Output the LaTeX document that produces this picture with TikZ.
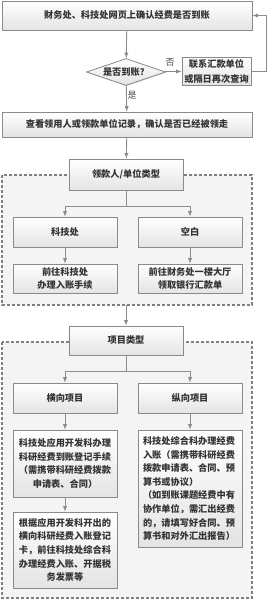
\documentclass[tikz,border=0pt]{standalone}
\usepackage{fontspec}
\setmainfont{Noto Sans CJK SC}
\usetikzlibrary{shapes.geometric,shadows,arrows}
\definecolor{linegray}{HTML}{8C8C8C}
\definecolor{boxline}{HTML}{8A8A8A}
\definecolor{boxfill}{HTML}{E4E4E4}
\definecolor{areafill}{HTML}{F4F4F4}
\definecolor{txtgray}{HTML}{333333}

\begin{document}
\begin{tikzpicture}[x=1pt,y=-1pt,>=latex,
	box/.style={draw=boxline,line width=0.8pt,top color=white,bottom color=boxfill,text=txtgray,
		font=\bfseries\fontsize{9.2}{13.6}\selectfont,inner sep=0pt,
		drop shadow={opacity=0.25,shadow xshift=0.8pt,shadow yshift=-0.8pt}},
	area/.style={draw=gray,fill=areafill,line width=1.4pt,dash pattern=on 3pt off 2pt},
	line/.style={draw=linegray,line width=0.9pt},
	yesno/.style={text=black!70,font=\fontsize{9}{10}\selectfont,inner sep=0pt}]
	\useasboundingbox (0,0) rectangle (268,600);
	\draw[area] (2,175) rectangle (252,305);
	\draw[area] (2,342) rectangle (252,598);
	\node[box,minimum width=250pt,minimum height=29pt] (caiwu) at (127,15.5) {财务处、科技处网页上确认经费是否到账};
	\node[box,shape=diamond,aspect=2.9,minimum width=79pt,minimum height=27pt] (daozhang) at (126,72) {是否到账？};
	\node[box,minimum width=69pt,minimum height=28pt,align=center,font=\bfseries\fontsize{9.2}{15}\selectfont] (lianxi) at (216.5,71) {联系汇款单位\\或隔日再次查询};
	\node[yesno] (fou) at (170,62) {否};
	\node[yesno] (shi) at (132,95) {是};
	\node[box,minimum width=250pt,minimum height=25pt] (chakan) at (127,124.5) {查看领用人或领款单位记录，确认是否已经被领走};
	\node[box,minimum width=114pt,minimum height=31pt] (lingkuan) at (126,174.5) {领款人/单位类型};
	\node[box,minimum width=104pt,minimum height=30pt] (kejichu) at (65,232) {科技处};
	\node[box,minimum width=104pt,minimum height=30pt] (kongbai) at (190,232) {空白};
	\node[box,minimum width=104pt,minimum height=29pt,align=center] (ruzhang) at (65,278.5) {前往科技处\\办理入账手续};
	\node[box,minimum width=104pt,minimum height=29pt,align=center] (huikuan) at (190,278.5) {前往财务处一楼大厅\\领取银行汇款单};
	\node[box,minimum width=114pt,minimum height=29pt] (xiangmu) at (126,340.5) {项目类型};
	\node[box,minimum width=104pt,minimum height=30pt] (hengxiang) at (65,398) {横向项目};
	\node[box,minimum width=104pt,minimum height=30pt] (zongxiang) at (190,398) {纵向项目};
	\node[box,minimum width=104pt,minimum height=67pt,text width=94pt,align=center] (dengji) at (65,463.5)
		{科技处应用开发科办理\\科研经费到账登记手续\\（需携带科研经费拨款\\申请表、合同）};
	\node[box,minimum width=104pt,minimum height=76pt,text width=94pt,align=center] (fapiao) at (65,550)
		{根据应用开发科开出的\\横向科研经费入账登记\\卡，前往科技处综合科\\办理经费入账、开据税\\务发票等};
	\node[box,minimum width=104pt,minimum height=117pt,text width=94pt,align=left] (zonghe) at (190,488.5)
		{科技处综合科办理经费\\入账（需携带科研经费\\拨款申请表、合同、预\\算书或协议）\\（如到账课题经费中有\\协作单位，需汇出经费\\的，请填写好合同、预\\算书和对外汇出报告）};
	\coordinate (back) at (266,71);
	\coordinate (fork1) at (126,206);
	\coordinate (fork2) at (126,371);
	\draw[line,->] (caiwu) -- (daozhang);
	\draw[line,->] (daozhang) -- (lianxi);
	\draw[line,->] (lianxi.east) -- (back) |- (caiwu.east);
	\draw[line,->] (daozhang) -- (chakan);
	\draw[line,->] (chakan) -- (lingkuan);
	\draw[line] (lingkuan) -- (fork1);
	\draw[line,->] (fork1) -| (kejichu);
	\draw[line,->] (fork1) -| (kongbai);
	\draw[line,->] (kejichu) -- (ruzhang);
	\draw[line,->] (kongbai) -- (huikuan);
	\draw[line,->] (126,305) -- (xiangmu);
	\draw[line] (xiangmu) -- (fork2);
	\draw[line,->] (fork2) -| (hengxiang);
	\draw[line,->] (fork2) -| (zongxiang);
	\draw[line,->] (hengxiang) -- (dengji);
	\draw[line,->] (zongxiang) -- (zonghe);
	\draw[line,->] (dengji) -- (fapiao);
\end{tikzpicture}
\end{document}
